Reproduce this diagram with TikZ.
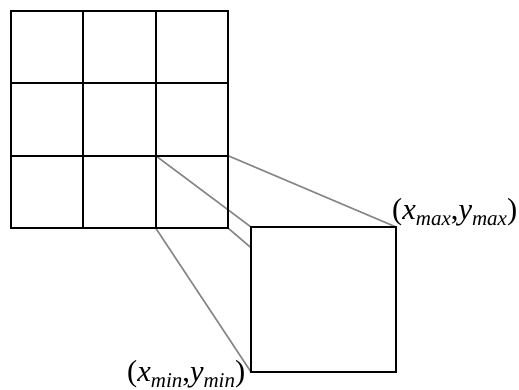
\documentclass[tikz,border=0pt]{standalone}
\usepackage{fontspec}
\setmainfont{Liberation Serif}
\usetikzlibrary{backgrounds}
\tikzset{
  cellbox/.style={draw=black, line width=2pt, minimum size=72.33pt, inner sep=0pt, outer sep=0pt, anchor=north west},
  zoombox/.style={draw=black, line width=2pt, fill=white, minimum size=145pt, inner sep=0pt, outer sep=0pt, anchor=north west},
  proj/.style={draw=gray!95, line width=1.6pt},
  lbl/.style={inner sep=0pt, anchor=base west, font=\fontsize{30.5}{36}\selectfont}
}
\newcommand{\sbx}[1]{\raisebox{-0.2em}{\fontsize{21}{24}\selectfont\itshape #1}}
\begin{document}
\begin{tikzpicture}[x=1pt,y=-1pt]
\useasboundingbox (0,0) rectangle (519,390);
\foreach \i in {0,1,2}{
  \foreach \j in {0,1,2}{
    \node[cellbox] (c\i\j) at ({11+72.33*\i},{11+72.33*\j}) {};
  }
}
\node[zoombox] (big) at (251,227) {};
\begin{pgfonlayer}{background}
\draw[proj] (c22.north west) -- (big.north west);
\draw[proj] (c22.north east) -- (big.north east);
\draw[proj] (c22.south west) -- (big.south west);
\draw[proj] (c22.south east) -- (big.south east);
\end{pgfonlayer}
\node[lbl] (tmax) at (392,219) {(\textit{x}\sbx{max},\textit{y}\sbx{max})};
\node[lbl] (tmin) at (127,381) {(\textit{x}\sbx{min},\textit{y}\sbx{min})};
\end{tikzpicture}
\end{document}
